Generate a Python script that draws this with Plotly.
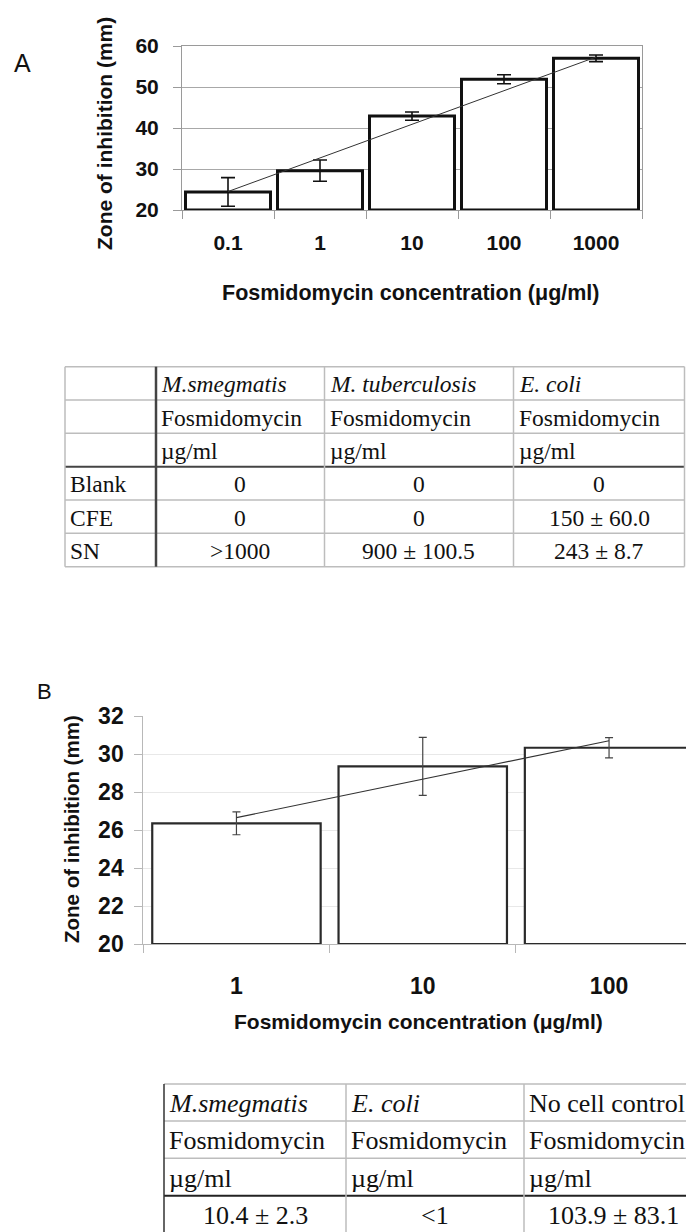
import plotly.graph_objects as go

# ---------------- data ----------------
# Panel A
conc_a = ["0.1", "1", "10", "100", "1000"]
zone_a = [24.4, 29.6, 42.9, 51.9, 57.0]
err_a = [3.5, 2.6, 1.0, 1.1, 0.8]
trend_a = [24.5, 57.3]          # linear trend line, first and last category

# Table A
tabA_species = ["M.smegmatis", "M. tuberculosis", "E. coli"]
tabA_drug = ["Fosmidomycin", "Fosmidomycin", "Fosmidomycin"]
tabA_unit = ["µg/ml", "µg/ml", "µg/ml"]
tabA_rows = ["Blank", "CFE", "SN"]
tabA_msmeg = ["0", "0", ">1000"]
tabA_mtb = ["0", "0", "900 ± 100.5"]
tabA_ecoli = ["0", "150 ± 60.0", "243 ± 8.7"]

# Panel B
conc_b = ["1", "10", "100"]
zone_b = [26.35, 29.35, 30.33]
err_b = [0.6, 1.53, 0.53]
trend_b = [26.65, 30.7]

# Table B
tabB_species = ["M.smegmatis", "E. coli", "No cell control"]
tabB_drug = ["Fosmidomycin", "Fosmidomycin", "Fosmidomycin"]
tabB_unit = ["µg/ml", "µg/ml", "µg/ml"]
tabB_values = ["10.4 ± 2.3", "<1", "103.9 ± 83.1"]

# ---------------- layout helpers ----------------
W, H = 694, 1232
OFF = 8   # page body margin: convert window pixels to figure pixels
def px(x):
    return (x - OFF) / W
def py(y):
    return 1 - (y - OFF) / H

BOLDSANS = "Liberation Sans, Arial, sans-serif"
SANS = "Liberation Sans, Arial, sans-serif"
SERIF = "Liberation Serif, Times New Roman, serif"
NON_ITALIC = {"No cell control"}

A_Y0, A_Y1 = 20, 60
B_Y0, B_Y1 = 20, 32

fig = go.Figure()

# Panel A bars
fig.add_trace(go.Bar(
    x=conc_a, y=[v - A_Y0 for v in zone_a], base=A_Y0, width=0.924,
    error_y=dict(type="data", array=err_a, color="#111111", thickness=1.6, width=7),
    marker=dict(color="white", line=dict(color="#111111", width=3)),
    xaxis="x", yaxis="y", showlegend=False, hoverinfo="skip"))
fig.add_trace(go.Scatter(
    x=[conc_a[0], conc_a[-1]], y=trend_a, mode="lines",
    line=dict(color="#333333", width=1), xaxis="x", yaxis="y",
    showlegend=False, hoverinfo="skip"))

# Panel B bars
fig.add_trace(go.Bar(
    x=conc_b, y=[v - B_Y0 for v in zone_b], base=B_Y0, width=0.904,
    error_y=dict(type="data", array=err_b, color="#444444", thickness=1.2, width=4),
    marker=dict(color="white", line=dict(color="#2a2a2a", width=2.2)),
    xaxis="x2", yaxis="y2", showlegend=False, hoverinfo="skip"))
fig.add_trace(go.Scatter(
    x=[conc_b[0], conc_b[-1]], y=trend_b, mode="lines",
    line=dict(color="#333333", width=1.1), xaxis="x2", yaxis="y2",
    showlegend=False, hoverinfo="skip"))

tickfont_a = dict(family=BOLDSANS, size=21, color="#111111", weight="bold")
tickfont_b = dict(family=BOLDSANS, size=23, color="#111111", weight="bold")

B_LEFT, B_RIGHT = 143.3, 694
B_CAT = 186.3
b_range_end = -0.5 + (B_RIGHT - B_LEFT) / B_CAT

fig.update_layout(
    width=W, height=H, margin=dict(l=0, r=0, t=0, b=0, pad=0),
    paper_bgcolor="white", plot_bgcolor="white",
    xaxis=dict(domain=[px(182), px(642)], anchor="y", type="category",
               range=[-0.5, 4.5], showline=True, linecolor="#9a9a9a", linewidth=1,
               mirror=True, ticks="outside", tickson="boundaries", ticklen=8,
               tickcolor="#9a9a9a", tickfont=tickfont_a, showgrid=False,
               ticklabelstandoff=14, fixedrange=True, automargin=False),
    yaxis=dict(domain=[py(210), py(46)], anchor="x", range=[A_Y0, A_Y1], dtick=10,
               showgrid=True, gridcolor="#a8a8a8", gridwidth=1, showline=True,
               linecolor="#9a9a9a", linewidth=1, mirror=True, ticks="outside",
               ticklen=8, tickcolor="#9a9a9a", tickfont=tickfont_a, zeroline=False,
               ticklabelstandoff=10, fixedrange=True, automargin=False),
    xaxis2=dict(domain=[px(B_LEFT), px(B_RIGHT)], anchor="y2", type="category",
                range=[-0.5, b_range_end], showline=True, linecolor="#b8b8b8",
                linewidth=1, ticks="outside", tickson="boundaries", ticklen=8,
                tickcolor="#b8b8b8", tickfont=tickfont_b, showgrid=False,
                ticklabelstandoff=21, fixedrange=True, automargin=False),
    yaxis2=dict(domain=[py(944), py(716)], anchor="x2", range=[B_Y0, B_Y1], dtick=2,
                showgrid=True, gridcolor="#e8e8e8", gridwidth=1, showline=True,
                linecolor="#b8b8b8", linewidth=1, ticks="outside", ticklen=8,
                tickcolor="#b8b8b8", tickfont=tickfont_b, zeroline=False,
                ticklabelstandoff=6, fixedrange=True, automargin=False),
)

annotations = []
shapes = []

def text(x, y, s, size, family, anchor="center", weight="normal", italic=False,
         angle=0, color="#111111"):
    annotations.append(dict(
        x=px(x), y=py(y), xref="paper", yref="paper", text=s, showarrow=False,
        xanchor=anchor, yanchor="middle", textangle=angle, borderpad=0,
        font=dict(size=size, family=family, color=color, weight=weight,
                  style="italic" if italic else "normal")))

def hline(x0, x1, y, color, width):
    shapes.append(dict(type="line", xref="paper", yref="paper",
                       x0=px(x0), x1=px(x1), y0=py(y), y1=py(y),
                       line=dict(color=color, width=width)))

def vline(x, y0, y1, color, width):
    shapes.append(dict(type="line", xref="paper", yref="paper",
                       x0=px(x), x1=px(x), y0=py(y0), y1=py(y1),
                       line=dict(color=color, width=width)))

# Panel labels and axis titles
text(22, 63, "A", 25, SANS)
text(104, 134, "Zone of inhibition (mm)", 21, BOLDSANS, weight="bold", angle=-90)
text(411, 293, "Fosmidomycin concentration (μg/ml)", 21.5, BOLDSANS, weight="bold")

text(44, 691, "B", 22, SANS)
text(71, 829, "Zone of inhibition (mm)", 20.5, BOLDSANS, weight="bold", angle=-90)
text(419, 1021, "Fosmidomycin concentration (μg/ml)", 21, BOLDSANS, weight="bold")

# ---------------- Table A ----------------
LIGHT = "#bdbdbd"
DARK = "#444444"
ta_x = [65, 156, 324.5, 513.5, 684.5]
ta_y = [366.7, 400, 433.3, 466.7, 500, 533.3, 566.7]
for i, y in enumerate(ta_y):
    if i == 3:
        hline(ta_x[0], ta_x[-1], y, DARK, 2)
    else:
        hline(ta_x[0], ta_x[-1], y, LIGHT, 1.5)
for j, x in enumerate(ta_x):
    if j == 1:
        vline(x, ta_y[0], ta_y[-1], DARK, 2.5)
    else:
        vline(x, ta_y[0], ta_y[-1], LIGHT, 1.5)

FS_A = 23.5
header_rows_a = [tabA_species, tabA_drug, tabA_unit]
for r, row in enumerate(header_rows_a):
    yc = (ta_y[r] + ta_y[r + 1]) / 2 + 1
    for c, s in enumerate(row):
        text(ta_x[c + 1] + 4, yc, s, FS_A, SERIF, anchor="left",
             italic=(r == 0 and s not in NON_ITALIC))
cols_a = [tabA_msmeg, tabA_mtb, tabA_ecoli]
for r, lab in enumerate(tabA_rows):
    yc = (ta_y[r + 3] + ta_y[r + 4]) / 2 + 1
    text(ta_x[0] + 4, yc, lab, FS_A, SERIF, anchor="left")
    for c, col in enumerate(cols_a):
        xc = (ta_x[c + 1] + ta_x[c + 2]) / 2
        text(xc, yc, col[r], FS_A, SERIF)

# ---------------- Table B ----------------
tb_x = [164, 346, 524, 702]
tb_y = [1084, 1121, 1158.3, 1195.7, 1233]
for i, y in enumerate(tb_y[:-1]):
    if i == 3:
        hline(tb_x[0], 694, y, "#222222", 2)
    else:
        hline(tb_x[0], 694, y, LIGHT, 1.5)
for j, x in enumerate(tb_x[:-1]):
    if j == 0:
        vline(x, tb_y[0], tb_y[-1], "#333333", 1.5)
    else:
        vline(x, tb_y[0], tb_y[-1], LIGHT, 1.5)

FS_B = 26
header_rows_b = [tabB_species, tabB_drug, tabB_unit]
for r, row in enumerate(header_rows_b):
    yc = (tb_y[r] + tb_y[r + 1]) / 2 + 1
    for c, s in enumerate(row):
        text(tb_x[c] + 4, yc, s, FS_B, SERIF, anchor="left",
             italic=(r == 0 and s not in NON_ITALIC))
for c, s in enumerate(tabB_values):
    yc = (tb_y[3] + tb_y[4]) / 2 + 1
    xc = (tb_x[c] + tb_x[c + 1]) / 2
    text(xc, yc, s, FS_B, SERIF)

fig.update_layout(annotations=annotations, shapes=shapes)

fig.write_html("out.html", config={"displayModeBar": False})
